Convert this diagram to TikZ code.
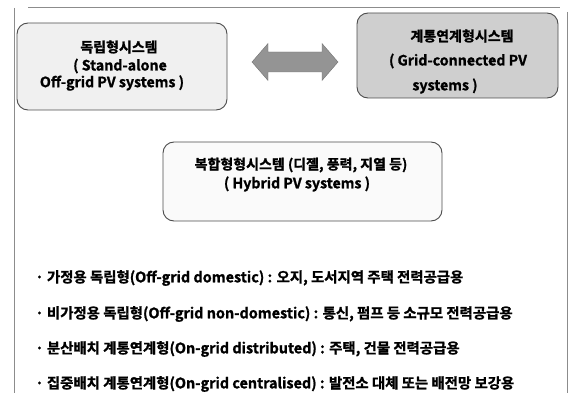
\documentclass[tikz,border=0pt]{standalone}
\usepackage{fontspec}
\setmainfont{Noto Sans CJK KR Bold}[FakeBold=1.2]
\begin{document}
\begin{tikzpicture}[x=1pt,y=-1pt,
  sysbox/.style={draw=black!70, line width=0.9pt, rounded corners=11pt},
  ttl/.style={font=\fontsize{14}{16}\selectfont, inner sep=0pt, anchor=center},
  sub/.style={font=\fontsize{14.2}{16}\selectfont, inner sep=0pt, anchor=center},
  item/.style={font=\fontsize{14.4}{16}\selectfont, inner sep=0pt, anchor=west},
  frameline/.style={draw=black!45, line width=0.8pt},
  arrowfill/.style={fill=black!42, draw=black!55, line width=0.4pt}]
\useasboundingbox (0,0) rectangle (574,393);
% outer frame
\coordinate (f1) at (14,8);
\coordinate (f2) at (14,393);
\coordinate (f3) at (28,7);
\coordinate (f4) at (560,7);
\coordinate (f5) at (567,12);
\coordinate (f6) at (567,393);
\draw[frameline] (f1) -- (f2);
\draw[frameline] (f3) -- (f4);
\draw[frameline] (f5) -- (f6);
% boxes
\node[sysbox, fill=black!6, minimum width=210pt, minimum height=87pt] (b1) at (122,66.5) {};
\node[sysbox, fill=black!19, minimum width=201pt, minimum height=85pt] (b2) at (457.5,55.5) {};
\node[sysbox, fill=black!2, minimum width=279pt, minimum height=79pt] (b3) at (302.5,181.5) {};
% double arrow between the boxes
\draw[arrowfill] (252,62) -- (268,43.5) -- (268,52) -- (322,52) -- (322,43.5) -- (338,62)
  -- (322,80.5) -- (322,72) -- (268,72) -- (268,80.5) -- cycle;
% texts box 1
\node[ttl] (t11) at (119,47) {독립형시스템};
\node[sub] (t12) at (120,66) {( Stand-alone};
\node[sub] (t13) at (112,83) {Off-grid PV systems )};
% texts box 2
\node[ttl] (t21) at (462,36) {계통연계형시스템};
\node[sub] (t22) at (458,61) {( Grid-connected PV};
\node[sub] (t23) at (445,86) {systems )};
% texts box 3
\node[ttl] (t31) at (301,165) {복합형형시스템 (디젤, 풍력, 지열 등)};
\node[sub] (t32) at (297,184) {( Hybrid PV systems )};
% items
\node[item] (i1) at (35,278) {· 가정용 독립형(Off-grid domestic) : 오지, 도서지역 주택 전력공급용};
\node[item] (i2) at (35,314) {· 비가정용 독립형(Off-grid non-domestic) : 통신, 펌프 등 소규모 전력공급용};
\node[item] (i3) at (35,349) {· 분산배치 계통연계형(On-grid distributed) : 주택, 건물 전력공급용};
\node[item] (i4) at (35,384) {· 집중배치 계통연계형(On-grid centralised) : 발전소 대체 또는 배전망 보강용};
\end{tikzpicture}
\end{document}
